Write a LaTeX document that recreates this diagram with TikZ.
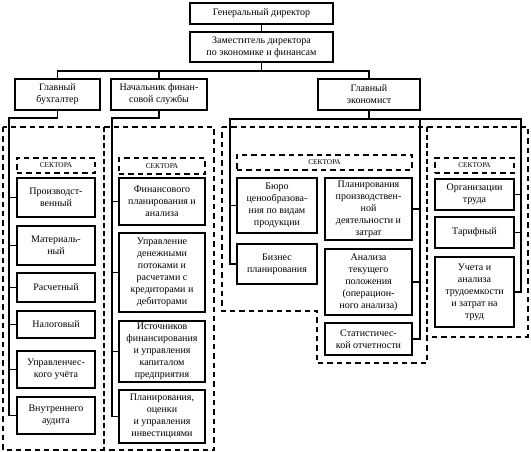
\documentclass[tikz,border=0pt]{standalone}
\usepackage{fontspec}
\setmainfont{Liberation Serif}
\newcommand\mkbox[7]{\node[#1, minimum width={(#5-#3)*0.75pt}, minimum height={(#6-#4)*0.75pt}] (#2) at ({(#3+#5)/2},{(#4+#6)/2}) {#7};}
\begin{document}
\begin{tikzpicture}[x=0.75pt,y=-0.75pt,
  box/.style={draw, line width=1.5pt, align=center, inner sep=1pt, font=\fontsize{7.5}{9}\selectfont},
  sect/.style={draw, line width=1pt, dash pattern=on 4pt off 3pt, inner sep=0pt, font=\fontsize{5.5}{6}\selectfont},
  conn/.style={line width=1.2pt},
  thinconn/.style={line width=0.8pt},
  region/.style={line width=1.5pt, dash pattern=on 4pt off 3pt},
  divider/.style={line width=0.8pt, dash pattern=on 3.5pt off 2.5pt}]
\useasboundingbox (0,0) rectangle (531,452);
% top
\mkbox{box}{gd}{190}{3}{333}{24}{Генеральный директор}
\mkbox{box}{dep}{190}{32}{333}{62}{Заместитель директора\\по экономике и финансам}
\mkbox{box}{buh}{15}{79}{100}{110}{Главный\\бухгалтер}
\mkbox{box}{nach}{111}{79}{207}{110}{Начальник финан-\\совой службы}
\mkbox{box}{eko}{318}{79}{420}{110}{Главный\\экономист}
% sector headers
\mkbox{sect}{s1}{17}{158}{95}{173}{СЕКТОРА}
\mkbox{sect}{s2}{119}{158}{205}{174}{СЕКТОРА}
\mkbox{sect}{s3}{237}{155}{412}{170}{СЕКТОРА}
\mkbox{sect}{s4}{435}{158}{514}{173}{СЕКТОРА}
% column 1
\mkbox{box}{p1}{17}{178}{95}{217}{Производст-\\венный}
\mkbox{box}{p2}{17}{226}{95}{265}{Материаль-\\ный}
\mkbox{box}{p3}{17}{273}{95}{302}{Расчетный}
\mkbox{box}{p4}{17}{311}{95}{338}{Налоговый}
\mkbox{box}{p5}{17}{351}{95}{388}{Управленчес-\\кого учёта}
\mkbox{box}{p6}{17}{397}{95}{434}{Внутреннего\\аудита}
% column 2
\mkbox{box}{f1}{119}{178}{205}{225}{Финансового\\планирования и\\анализа}
\mkbox{box}{f2}{119}{233}{205}{312}{Управление\\денежными\\потоками и\\расчетами с\\кредиторами и\\дебиторами}
\mkbox{box}{f3}{119}{321}{205}{382}{Источников\\финансирования\\и управления\\капиталом\\предприятия}
\mkbox{box}{f4}{119}{390}{205}{443}{Планирования,\\оценки\\и управления\\инвестициями}
% economist left
\mkbox{box}{e1}{237}{178}{317}{233}{Бюро\\ценообразова-\\ния по видам\\продукции}
\mkbox{box}{e2}{237}{244}{317}{284}{Бизнес\\планирования}
\mkbox{box}{e3}{325}{178}{412}{240}{Планирования\\производствен-\\ной\\деятельности и\\затрат}
\mkbox{box}{e4}{325}{249}{412}{315}{Анализа\\текущего\\положения\\(операцион-\\ного анализа)}
\mkbox{box}{e5}{325}{323}{412}{355}{Статистичес-\\кой отчетности}
% economist right
\mkbox{box}{r1}{435}{179}{514}{210}{Организации\\труда}
\mkbox{box}{r2}{435}{217}{514}{248}{Тарифный}
\mkbox{box}{r3}{435}{257}{514}{327}{Учета и\\анализа\\трудоемкости\\и затрат на\\труд}
% connectors top
\coordinate (bus) at (262,71);
\draw[conn] (gd.south) -- (dep.north);
\draw[conn] (dep.south) -- (dep.south |- bus);
\draw[conn] (buh.north) -- (buh.north |- bus) -- (eko.north |- bus) -- (eko.north);
\draw[conn] (nach.north) -- (nach.north |- bus);
% bukhgalter
\coordinate (bl) at (9,118);
\draw[conn] (buh.south) -- (buh.south |- bl) -- (bl) |- (p6.west);
\foreach \n in {p1,p2,p3,p4,p5} \draw[conn] (bl |- \n.west) -- (\n.west);
% nachalnik
\coordinate (nl) at (112,118);
\draw[conn] (nach.south) -- (nach.south |- nl) -- (nl) |- (f4.west);
\foreach \n in {f1,f2,f3} \draw[conn] (nl |- \n.west) -- (\n.west);
% economist
\coordinate (el) at (230,119);
\coordinate (em) at (420,119);
\coordinate (er) at (521,119);
\draw[conn] (eko.south) -- (eko.south |- el);
\draw[conn] (e2.west) -| (el) -- (er) |- (r3.east);
\draw[conn] (el |- e1.west) -- (e1.west);
\draw[thinconn] (em) |- (e5.east);
\foreach \n in {e3,e4} \draw[thinconn] (em |- \n.east) -- (\n.east);
\foreach \n in {r1,r2} \draw[conn] (er |- \n.east) -- (\n.east);
% dashed regions
\draw[region] (3,127) rectangle (214,450);
\draw[divider] (104,127) -- (104,450);
\draw[region] (222,127) -- (528,127) -- (528,337) -- (427,337) -- (427,363) -- (317,363) -- (317,311) -- (222,311) -- cycle;
\draw[divider] (427,127) -- (427,337);
\end{tikzpicture}
\end{document}
